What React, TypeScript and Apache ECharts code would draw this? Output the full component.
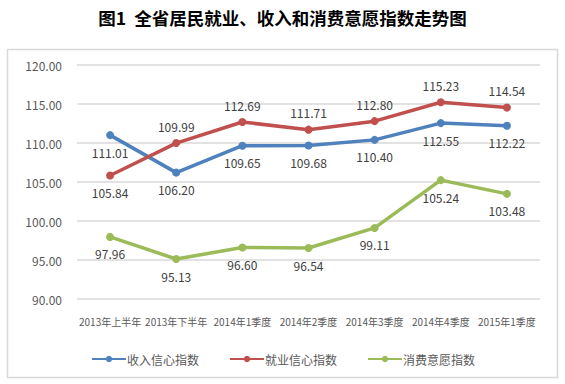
import React, { useEffect, useRef } from "react";
import * as echarts from "echarts";

const categories = ["2013年上半年", "2013年下半年", "2014年1季度", "2014年2季度", "2014年3季度", "2014年4季度", "2015年1季度"];
const incomeValues = [111.01, 106.2, 109.65, 109.68, 110.4, 112.55, 112.22];
const employmentValues = [105.84, 109.99, 112.69, 111.71, 112.8, 115.23, 114.54];
const consumptionValues = [97.96, 95.13, 96.6, 96.54, 99.11, 105.24, 103.48];
const seriesNames = ["收入信心指数", "就业信心指数", "消费意愿指数"];

export default function App() {
  const ref = useRef<HTMLDivElement>(null);
  useEffect(() => {
    if (!ref.current) return;
    const chart = echarts.init(ref.current, null, { renderer: "svg" });
    const font = "'Noto Sans CJK SC', 'Noto Sans', sans-serif";
    const labelStyle = { show: true, fontSize: 12, color: "#404040", fontFamily: font, distance: 7, formatter: (p: any) => Number(p.value).toFixed(2) };
    const mk = (name: string, data: number[], color: string, pos: (i: number) => string) => ({
      name,
      type: "line",
      data: data.map((v, i) => ({ value: v, label: { position: pos(i) } })),
      symbol: "circle",
      symbolSize: 8,
      lineStyle: { width: 3.5, color },
      itemStyle: { color },
      label: labelStyle,
    });
    chart.setOption({
      animation: false,
      backgroundColor: "#ffffff",
      title: {
        text: "图1  全省居民就业、收入和消费意愿指数走势图",
        left: "center",
        top: 4,
        textStyle: { fontSize: 17.5, fontWeight: "bold", color: "#000", fontFamily: font },
      },
      graphic: [
        { type: "rect", shape: { x: 7.5, y: 49.5, width: 550, height: 328 }, style: { fill: "none", stroke: "#D9D9D9", lineWidth: 1.5 } },
      ],
      legend: {
        left: 86,
        top: 348,
        itemWidth: 34,
        itemHeight: 8,
        itemGap: 30,
        textStyle: { fontSize: 12, color: "#595959", fontFamily: font, padding: [0, 0, 0, -4] },
        data: seriesNames,
      },
      grid: { left: 77, right: 25, top: 65, bottom: 85 },
      xAxis: {
        type: "category",
        data: categories,
        boundaryGap: true,
        axisLine: { show: false },
        axisTick: { show: false },
        axisLabel: { interval: 0, fontSize: 10, color: "#595959", fontFamily: font, margin: 17 },
      },
      yAxis: {
        type: "value",
        min: 90,
        max: 120,
        interval: 5,
        axisLine: { show: false },
        axisTick: { show: false },
        splitLine: { lineStyle: { color: "#D9D9D9", width: 1.5 } },
        axisLabel: { fontSize: 12, color: "#595959", fontFamily: font, margin: 15, formatter: (v: number) => v.toFixed(2) },
      },
      series: [
        mk(seriesNames[0], incomeValues, "#4F81BD", () => "bottom"),
        mk(seriesNames[1], employmentValues, "#C0504D", (i) => (i === 0 ? "bottom" : "top")),
        mk(seriesNames[2], consumptionValues, "#9BBB59", () => "bottom"),
      ],
    });
    return () => chart.dispose();
  }, []);
  return <div ref={ref} style={{ position: "fixed", left: 0, top: 0, width: 565, height: 384 }} />;
}
